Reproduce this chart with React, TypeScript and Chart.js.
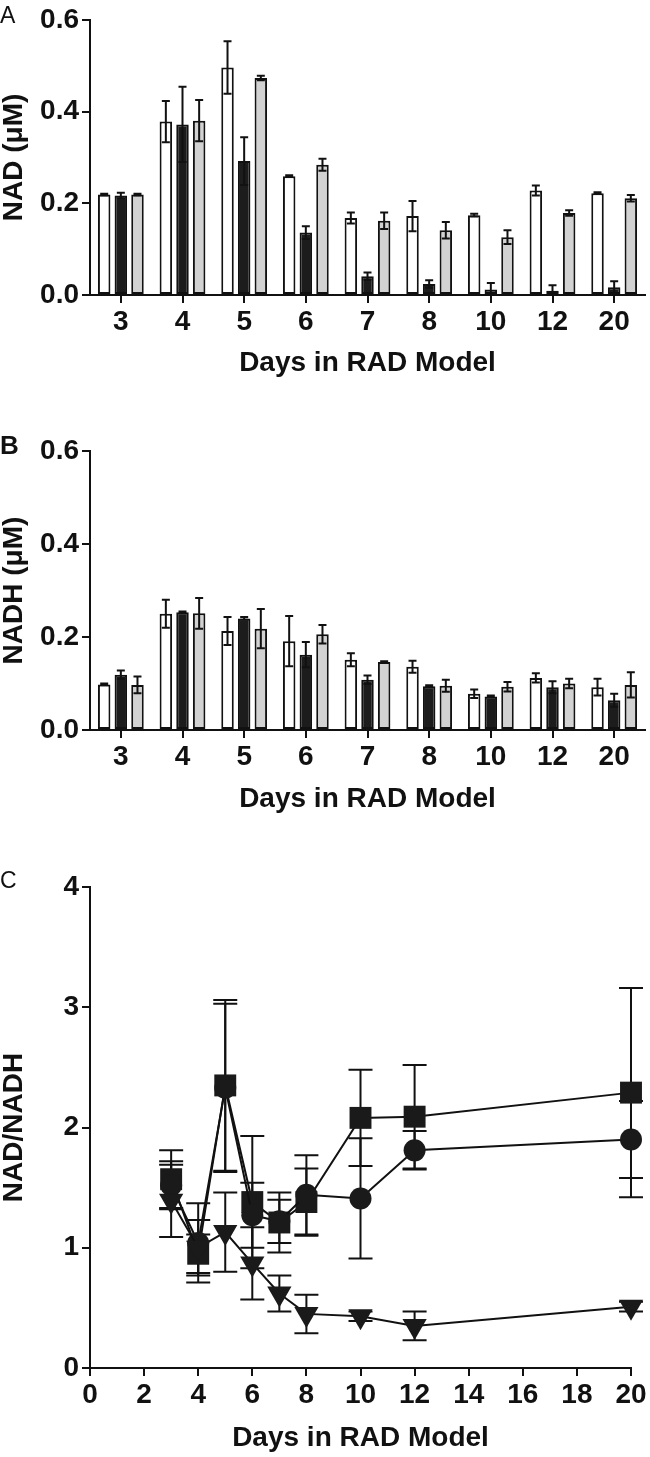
import React, { useEffect, useRef } from 'react';
import { Chart, registerables } from 'chart.js';

Chart.register(...registerables);

// ---------- data ----------
const dayLabels = ['3', '4', '5', '6', '7', '8', '10', '12', '20'];
const dayValues = [3, 4, 5, 6, 7, 8, 10, 12, 20];
const groupNames = ['Group 1', 'Group 2', 'Group 3'];

// Panel A: NAD (uM)
const nadGroup1 = [0.219, 0.378, 0.496, 0.259, 0.168, 0.172, 0.174, 0.228, 0.222];
const nadGroup1Err = [0.002, 0.045, 0.057, 0.002, 0.012, 0.033, 0.003, 0.011, 0.002];
const nadGroup2 = [0.217, 0.372, 0.292, 0.136, 0.041, 0.024, 0.012, 0.009, 0.017];
const nadGroup2Err = [0.006, 0.082, 0.052, 0.014, 0.008, 0.008, 0.014, 0.012, 0.013];
const nadGroup3 = [0.219, 0.38, 0.473, 0.284, 0.162, 0.141, 0.126, 0.179, 0.211];
const nadGroup3Err = [0.002, 0.045, 0.005, 0.013, 0.018, 0.018, 0.015, 0.006, 0.007];

// Panel B: NADH (uM)
const nadhGroup1 = [0.098, 0.25, 0.213, 0.191, 0.151, 0.136, 0.078, 0.112, 0.092];
const nadhGroup1Err = [0.002, 0.03, 0.03, 0.054, 0.014, 0.013, 0.009, 0.01, 0.018];
const nadhGroup2 = [0.119, 0.253, 0.24, 0.162, 0.108, 0.094, 0.072, 0.092, 0.064];
const nadhGroup2Err = [0.009, 0.002, 0.003, 0.027, 0.009, 0.002, 0.002, 0.013, 0.014];
const nadhGroup3 = [0.097, 0.251, 0.218, 0.206, 0.146, 0.095, 0.093, 0.1, 0.097];
const nadhGroup3Err = [0.018, 0.033, 0.042, 0.02, 0.002, 0.013, 0.01, 0.01, 0.027];

// Panel C: NAD/NADH ratio
const ratioGroup1 = [1.57, 0.95, 2.35, 1.38, 1.21, 1.38, 2.08, 2.09, 2.29]; // squares
const ratioGroup1Err = [0.24, 0.16, 0.71, 0.55, 0.25, 0.28, 0.4, 0.43, 0.87];
const ratioGroup3 = [1.52, 1.04, 2.33, 1.27, 1.22, 1.44, 1.41, 1.81, 1.9]; // circles
const ratioGroup3Err = [0.2, 0.33, 0.7, 0.27, 0.18, 0.33, 0.5, 0.16, 0.32];
const ratioGroup2 = [1.39, 1.0, 1.13, 0.87, 0.62, 0.45, 0.43, 0.35, 0.51]; // triangles
const ratioGroup2Err = [0.3, 0.23, 0.33, 0.3, 0.15, 0.16, 0.04, 0.12, 0.04];

const xTitle = 'Days in RAD Model';

// ---------- styling ----------
const FONT = "'Liberation Sans', Arial, Helvetica, sans-serif";
const INK = '#111111';
const tickFont = { family: FONT, size: 28, weight: 'bold' as const };
const titleFont = { family: FONT, size: 28, weight: 'bold' as const, lineHeight: 1 };

function errorBarPlugin(id: string, errors: number[][], capHalf: number, before: boolean) {
  const draw = (chart: any) => {
    const ctx = chart.ctx;
    const yScale = chart.scales.y;
    ctx.save();
    ctx.strokeStyle = INK;
    ctx.lineWidth = 2;
    chart.data.datasets.forEach((ds: any, i: number) => {
      const meta = chart.getDatasetMeta(i);
      meta.data.forEach((el: any, j: number) => {
        const raw = ds.data[j];
        const v = typeof raw === 'number' ? raw : raw.y;
        const e = errors[i][j];
        const x = el.x;
        const yt = yScale.getPixelForValue(v + e);
        const yb = yScale.getPixelForValue(Math.max(v - e, 0));
        ctx.beginPath();
        ctx.moveTo(x, yt);
        ctx.lineTo(x, yb);
        ctx.moveTo(x - capHalf, yt);
        ctx.lineTo(x + capHalf, yt);
        ctx.moveTo(x - capHalf, yb);
        ctx.lineTo(x + capHalf, yb);
        ctx.stroke();
      });
    });
    ctx.restore();
  };
  return before ? { id, beforeDatasetsDraw: draw } : { id, afterDatasetsDraw: draw };
}

const axisGrid = {
  display: true,
  drawOnChartArea: false,
  drawTicks: true,
  tickLength: 8,
  lineWidth: 2,
  color: INK,
};
const axisBorder = { display: true, width: 2, color: INK };

function barConfig(
  id: string,
  values: number[][],
  errors: number[][],
  yTitle: string,
  padTop: number,
  titlePadBottom: number
): any {
  const fills = ['#ffffff', '#1c1c1c', '#d2d2d2'];
  return {
    type: 'bar',
    data: {
      labels: dayLabels,
      datasets: values.map((vals, i) => ({
        label: groupNames[i],
        data: vals,
        backgroundColor: fills[i],
        borderColor: INK,
        borderWidth: 2,
        borderSkipped: false,
        categoryPercentage: 0.81,
        barPercentage: 0.75,
      })),
    },
    options: {
      responsive: false,
      animation: false,
      layout: { padding: { top: padTop, right: 5, left: 0, bottom: 0 } },
      plugins: { legend: { display: false }, tooltip: { enabled: false } },
      scales: {
        x: {
          grid: { ...axisGrid, offset: false },
          border: axisBorder,
          ticks: { font: tickFont, color: INK, padding: 2, maxRotation: 0 },
          title: { display: true, text: xTitle, font: titleFont, color: INK, padding: { top: 0, bottom: titlePadBottom } },
          afterFit: (s: any) => {
            s.height = 90;
          },
        },
        y: {
          min: 0,
          max: 0.6,
          grid: axisGrid,
          border: axisBorder,
          ticks: {
            stepSize: 0.2,
            font: tickFont,
            color: INK,
            padding: 3,
            callback: (v: any) => Number(v).toFixed(1),
          },
          title: { display: true, text: yTitle, font: titleFont, color: INK, padding: { top: 0, bottom: 0 } },
          afterFit: (s: any) => {
            s.width = 90;
          },
        },
      },
    },
    plugins: [errorBarPlugin(id, errors, 4, false)],
  };
}

function ratioConfig(): any {
  const mk = (vals: number[], label: string, style: string, radius: number, rotation: number) => ({
    label,
    data: dayValues.map((d, i) => ({ x: d, y: vals[i] })),
    borderColor: INK,
    borderWidth: 2,
    tension: 0,
    fill: false,
    clip: false,
    pointStyle: style,
    pointRadius: radius,
    pointRotation: rotation,
    pointBackgroundColor: '#1a1a1a',
    pointBorderColor: '#1a1a1a',
    pointBorderWidth: 0,
  });
  return {
    type: 'line',
    data: {
      datasets: [
        mk(ratioGroup2, groupNames[1], 'triangle', 14, 180),
        mk(ratioGroup3, groupNames[2], 'circle', 11, 0),
        mk(ratioGroup1, groupNames[0], 'rect', 15.5, 0),
      ],
    },
    options: {
      responsive: false,
      animation: false,
      layout: { padding: { top: 47, right: 19, left: 0, bottom: 0 } },
      plugins: { legend: { display: false }, tooltip: { enabled: false } },
      scales: {
        x: {
          type: 'linear',
          min: 0,
          max: 20,
          grid: axisGrid,
          border: axisBorder,
          ticks: { stepSize: 2, font: tickFont, color: INK, padding: 2, maxRotation: 0 },
          title: { display: true, text: xTitle, font: titleFont, color: INK, padding: { top: 0, bottom: 5 } },
          afterFit: (s: any) => {
            s.height = 89;
          },
        },
        y: {
          min: 0,
          max: 4,
          grid: axisGrid,
          border: axisBorder,
          ticks: { stepSize: 1, font: tickFont, color: INK, padding: 3 },
          title: { display: true, text: 'NAD/NADH', font: titleFont, color: INK, padding: { top: 0, bottom: 0 } },
          afterFit: (s: any) => {
            s.width = 90;
          },
        },
      },
    },
    plugins: [errorBarPlugin('errC', [ratioGroup2Err, ratioGroup3Err, ratioGroup1Err], 12, true)],
  };
}

function ChartCanvas({ top, height, make }: { top: number; height: number; make: () => any }) {
  const ref = useRef<HTMLCanvasElement>(null);
  useEffect(() => {
    const chart = new Chart(ref.current as HTMLCanvasElement, make());
    return () => chart.destroy();
  }, []);
  return (
    <canvas
      ref={ref}
      width={650}
      height={height}
      style={{ position: 'absolute', left: 0, top, width: 650, height, display: 'block' }}
    />
  );
}

function PanelLabel({ text, top, size, bold }: { text: string; top: number; size: number; bold: boolean }) {
  return (
    <div
      style={{
        position: 'absolute',
        left: 0,
        top,
        fontFamily: FONT,
        fontSize: size,
        lineHeight: 1,
        fontWeight: bold ? 700 : 400,
        color: INK,
      }}
    >
      {text}
    </div>
  );
}

export default function App() {
  return (
    <div style={{ position: 'absolute', left: 0, top: 0, width: 650, height: 1457, background: '#fff', overflow: 'hidden' }}>
      <ChartCanvas
        top={0}
        height={385}
        make={() =>
          barConfig('errA', [nadGroup1, nadGroup2, nadGroup3], [nadGroup1Err, nadGroup2Err, nadGroup3Err], 'NAD (μM)', 19, 7.5)
        }
      />
      <ChartCanvas
        top={400}
        height={420}
        make={() =>
          barConfig('errB', [nadhGroup1, nadhGroup2, nadhGroup3], [nadhGroup1Err, nadhGroup2Err, nadhGroup3Err], 'NADH (μM)', 51, 7)
        }
      />
      <ChartCanvas top={840} height={617} make={ratioConfig} />
      <PanelLabel text="A" top={4} size={23} bold={false} />
      <PanelLabel text="B" top={432} size={26} bold={true} />
      <PanelLabel text="C" top={869} size={23} bold={false} />
    </div>
  );
}
